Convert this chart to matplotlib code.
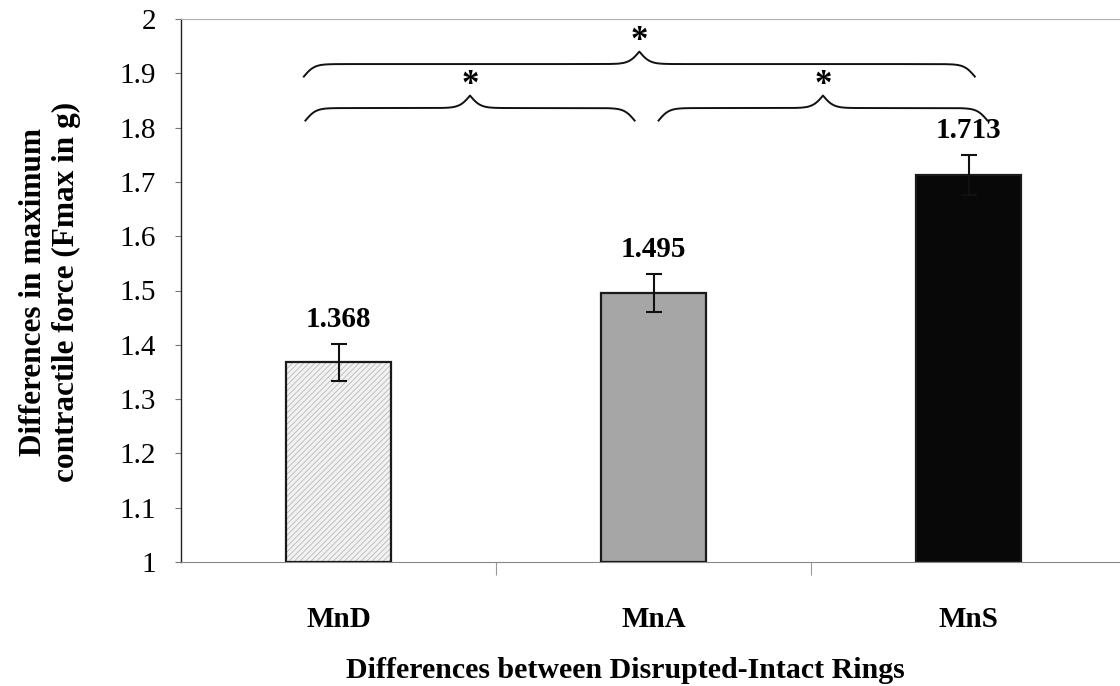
import numpy as np
import matplotlib
matplotlib.use("Agg")
import matplotlib.pyplot as plt

# data
groups = ["MnD", "MnA", "MnS"]
means = [1.368, 1.495, 1.713]
errors = [0.034, 0.035, 0.037]
value_labels = ["1.368", "1.495", "1.713"]
bar_colors = ["#f2f2f2", "#a6a6a6", "#080808"]
# significance brackets: (group a, group b, level)
comparisons = [(0, 1, 0), (1, 2, 0), (0, 2, 1)]
# brace end offsets from the group centres
brace_offsets = [(-0.105, -0.06), (0.016, 0.06), (-0.11, 0.02)]

plt.rcParams['font.family'] = ['Liberation Serif', 'DejaVu Serif']
plt.rcParams['hatch.linewidth'] = 0.6

fig = plt.figure(figsize=(11.2, 6.86), dpi=100)
ax = fig.add_axes([181 / 1120, 124 / 686, 945 / 1120, 543 / 686])

x = np.arange(len(groups))
width = 0.335

# hatched fill for the first bar, then plain fills, then outlines
ax.bar(x[0], means[0] - 1, width, bottom=1, color=bar_colors[0],
       edgecolor="#b8b8b8", hatch="//////", linewidth=0, zorder=2)
ax.bar(x[1:], np.array(means[1:]) - 1, width, bottom=1, color=bar_colors[1:],
       linewidth=0, zorder=2)
ax.bar(x, np.array(means) - 1, width, bottom=1, fill=False,
       edgecolor="#1a1a1a", linewidth=1.6, zorder=3)
ax.errorbar(x, means, yerr=errors, fmt="none", ecolor="#111111",
            elinewidth=1.5, capsize=5.5, capthick=1.5, zorder=4)

for xi, m, e, lab in zip(x, means, errors, value_labels):
    ax.text(xi, m + e + 0.045, lab, ha="center", va="center",
            fontsize=21, fontweight="bold")


def brace(ax, xa, xb, y, h=0.023, beta=60):
    """Curly brace from xa to xb, ends curling down, tip pointing up."""
    span = xb - xa
    half = np.linspace(0, span / 2, 300)
    yh = 1 / (1 + np.exp(-beta * (half - half[0]))) + \
        1 / (1 + np.exp(-beta * (half - half[-1])))
    yy = np.concatenate([yh, yh[-2::-1]])
    xx = np.linspace(xa, xb, len(yy))
    ax.plot(xx, y + (yy - 1) * 2 * h, color="#111111", lw=1.4,
            zorder=5, clip_on=False)


brace_levels = [1.836, 1.917]
star_levels = [1.878, 1.958]
for (a, b, lvl), (oa, ob) in zip(comparisons, brace_offsets):
    xa, xb = x[a] + oa, x[b] + ob
    brace(ax, xa, xb, brace_levels[lvl])
    ax.text((xa + xb) / 2, star_levels[lvl], "*", ha="center", va="center",
            fontsize=25, fontweight="bold")

ax.set_xlim(-0.5, 2.5)
ax.set_ylim(1, 2)
ax.set_yticks(np.arange(1, 2.01, 0.1))
ax.set_yticklabels(["1", "1.1", "1.2", "1.3", "1.4", "1.5", "1.6",
                    "1.7", "1.8", "1.9", "2"], fontsize=21)
ax.tick_params(axis="y", length=4, width=0.8, color="#777777", pad=14)
ax.set_xticks(x)
ax.set_xticklabels(groups, fontsize=21, fontweight="bold")
ax.tick_params(axis="x", which="major", length=0, pad=32)
ax.set_xticks([0.5, 1.5], minor=True)
ax.tick_params(axis="x", which="minor", length=9, width=0.8, color="#999999")

ax.spines["left"].set_color("#222222")
ax.spines["left"].set_linewidth(1.0)
ax.spines["bottom"].set_color("#888888")
ax.spines["top"].set_color("#b0b0b0")
ax.spines["right"].set_visible(False)

fig.text(625 / 1120, 1 - 670 / 686, "Differences between Disrupted-Intact Rings",
         ha="center", va="center", fontsize=21.5, fontweight="bold")
fig.text(50 / 1120, 1 - 292 / 686,
         "Differences in maximum\ncontractile force (Fmax in g)",
         ha="center", va="center", rotation=90, fontsize=22.5,
         fontweight="bold", linespacing=1.15)

fig.savefig("out.png", dpi=100)
